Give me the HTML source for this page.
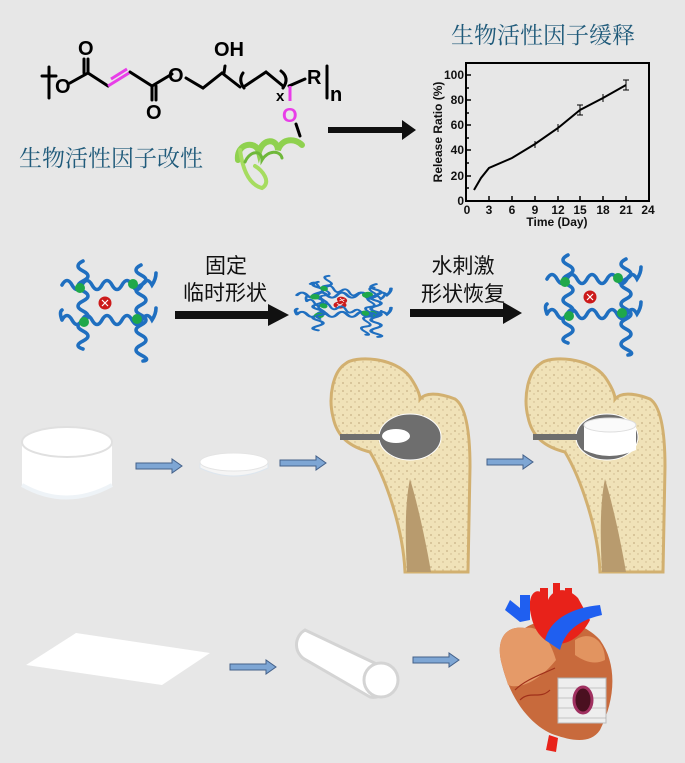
<!DOCTYPE html>
<html><head><meta charset="utf-8"><style>
html,body{margin:0;padding:0;background:#e7e7e7;}
svg{display:block;}
text{font-family:"Liberation Sans","Noto Sans CJK SC",sans-serif;}
.cjk{font-family:"Noto Serif CJK SC","Noto Sans CJK SC",serif;}
</style></head><body>
<svg width="685" height="763" viewBox="0 0 685 763" xmlns="http://www.w3.org/2000/svg">
<rect width="685" height="763" fill="#e7e7e7"/>
<defs>
<g id="net">
 <g fill="none" stroke="#1f6fc0" stroke-width="3.6" stroke-linecap="round">
  <path d="M-43,-18 q5,-9 10,0 t10,0 t10,0 t10,0 t10,0 t10,0 t10,0 t10,0 t10,0 q4,-6 4,-12"/>
  <path d="M-43,17 q-3,-8 0,-10 M-43,17 q5,-9 10,0 t10,0 t10,0 t10,0 t10,0 t10,0 t10,0 t10,0 t10,0 q4,-6 4,-12"/>
  <path d="M-22,-42 q-10,5 0,10 t0,10 t0,10 t0,10 t0,10 t0,10 t0,10 t0,10 t0,8"/>
  <path d="M36,-38 q-10,5 0,10 t0,10 t0,10 t0,10 t0,10 t0,10 t0,10 t0,10 t0,10 t2,6"/>
 </g>
 <g fill="#1fa84a"><circle cx="-25" cy="-15" r="5"/><circle cx="28" cy="-19" r="5"/><circle cx="-21" cy="19" r="5"/><circle cx="32" cy="16" r="5"/></g>
 <circle cx="0" cy="0" r="6.5" fill="#cc1a1a"/>
 <path d="M-3,-3 L3,3 M3,-3 L-3,3" stroke="#fff" stroke-width="1.2"/>
</g>
<pattern id="spong" width="8" height="8" patternUnits="userSpaceOnUse">
 <rect width="8" height="8" fill="#f0e2b8"/><circle cx="2" cy="2" r="0.9" fill="#c8b184"/><circle cx="6" cy="5" r="0.7" fill="#cdb78c"/>
</pattern>
<g id="bone">
 <path d="M20,7 C30,-2 70,0 85,20 C92,30 95,38 95,42 C100,36 112,35 130,42 C142,50 145,80 145,110 L143,215 L80,215 C78,170 60,120 45,95 C25,90 12,80 8,60 C3,40 8,15 20,7 Z" fill="url(#spong)" stroke="#d2b070" stroke-width="3"/>
 <path d="M85,122 C92,145 100,180 106,215 L82,215 C80,180 80,145 85,122 Z" fill="#b89b6e"/>
</g>
</defs>

<!-- Chemistry -->
<g stroke="#000" stroke-width="3" fill="none" stroke-linecap="round">
 <path d="M49,67 L49,98 M42,76 L56,76"/>
 <path d="M70,83 L88,73 L108,86"/>
 <path d="M88,73 L88,59 M84,73 L84,59" />
 <path d="M130,72 L152,86 L172,74"/>
 <path d="M152,86 L152,100 M156,86 L156,100"/>
 <path d="M186,78 L203,88 L222,73 L240,87 M225,66 L224,73"/>
 <path d="M244,88 Q238,80 243,73" />
 <path d="M245,86 L266,72 L283,86"/>
 <path d="M281,71 Q290,78 283,88"/>
 <path d="M289,86 L305,79"/>
 <path d="M296,124 L300,136"/>
 <path d="M327,66 L327,98"/>
</g>
<g stroke="#e83ee8" stroke-width="3" fill="none">
 <path d="M108,86 L129,73 M111,79 L127,69"/>
 <path d="M290,86 L290,101"/>
</g>
<g font-weight="bold" font-size="20" fill="#000">
 <text x="55" y="93">O</text>
 <text x="78" y="55">O</text>
 <text x="146" y="119">O</text>
 <text x="168" y="82">O</text>
 <text x="214" y="56">OH</text>
 <text x="307" y="84">R</text>
 <text x="330" y="101">n</text>
 <text x="276" y="101" font-size="15">x</text>
</g>
<text x="282" y="122" font-size="20" font-weight="bold" fill="#e83ee8">O</text>
<!-- protein ribbon -->
<g fill="none" stroke-linecap="round">
 <path d="M238,160 C236,143 256,140 259,152 C263,138 277,138 278,150 C282,138 295,138 302,145" stroke="#8fd14f" stroke-width="6"/>
 <path d="M240,150 C243,172 250,185 262,188 C272,182 262,170 255,166" stroke="#a6dc60" stroke-width="4"/>
 <path d="M245,162 C250,150 262,150 262,160 C268,150 280,150 282,158" stroke="#6fb83a" stroke-width="3"/>
</g>
<text x="19" y="166" class="cjk" font-size="23" fill="#1f5a7a">生物活性因子改性</text>

<!-- black arrow -->
<path d="M328,127 L402,127 L402,120 L416,130 L402,140 L402,133 L328,133 Z" fill="#111"/>

<!-- Title -->
<text x="451" y="43" class="cjk" font-size="23" fill="#1f5a7a">生物活性因子缓释</text>

<!-- Chart -->
<rect x="466" y="63" width="183" height="138" fill="none" stroke="#000" stroke-width="2"/>
<g stroke="#000" stroke-width="1.5">
 <path d="M466,75 h5 M466,100 h5 M466,125 h5 M466,150 h5 M466,176 h5 M466,88 h3 M466,113 h3 M466,138 h3 M466,163 h3 M466,188 h3"/>
 <path d="M489,201 v-5 M512,201 v-5 M535,201 v-5 M558,201 v-5 M580,201 v-5 M603,201 v-5 M626,201 v-5"/>
</g>
<polyline points="474,190 481,178 489,168 512,158 535,144 558,128 580,110 603,98 626,85" fill="none" stroke="#000" stroke-width="2"/>
<g stroke="#000" stroke-width="1"><path d="M626,80 v10 M623,80 h6 M623,90 h6 M580,105 v10 M577,105 h6 M577,115 h6 M603,94 v8 M558,124 v8 M535,141 v7"/></g>
<g font-size="12" font-weight="bold" fill="#111" text-anchor="end">
 <text x="464" y="79">100</text><text x="464" y="104">80</text><text x="464" y="129">60</text><text x="464" y="154">40</text><text x="464" y="180">20</text><text x="464" y="205">0</text>
</g>
<g font-size="12" font-weight="bold" fill="#111" text-anchor="middle">
 <text x="467" y="214">0</text><text x="489" y="214">3</text><text x="512" y="214">6</text><text x="535" y="214">9</text><text x="558" y="214">12</text><text x="580" y="214">15</text><text x="603" y="214">18</text><text x="626" y="214">21</text><text x="648" y="214">24</text>
 <text x="557" y="226">Time (Day)</text>
</g>
<text transform="translate(442,132) rotate(-90)" font-size="12" font-weight="bold" fill="#111" text-anchor="middle">Release Ratio (%)</text>

<!-- Networks -->
<use href="#net" transform="translate(105,303)"/>
<g transform="translate(340,305) scale(1.0,0.55)"><use href="#net"/></g>
<g transform="translate(342,300) rotate(12) scale(0.8,0.5)"><use href="#net"/></g>
<use href="#net" transform="translate(590,297)"/>
<path d="M175,311 L268,311 L268,304 L289,315 L268,326 L268,319 L175,319 Z" fill="#111"/>
<path d="M410,309 L503,309 L503,302 L522,313 L503,324 L503,317 L410,317 Z" fill="#111"/>
<g class="cjk" font-size="21" fill="#111" text-anchor="middle">
 <text x="226" y="273">固定</text><text x="225" y="300">临时形状</text>
 <text x="463" y="273">水刺激</text><text x="463" y="301">形状恢复</text>
</g>

<!-- Bones -->
<use href="#bone" transform="translate(325,357)"/>
<use href="#bone" transform="translate(520,357)"/>
<ellipse cx="410" cy="437" rx="31" ry="23" fill="#6e6e6e" stroke="#fff" stroke-width="1"/>
<rect x="340" y="434" width="46" height="6" fill="#6e6e6e"/>
<ellipse cx="396" cy="436" rx="14" ry="7" fill="#fff"/>
<ellipse cx="607" cy="437" rx="31" ry="23" fill="#6e6e6e" stroke="#fff" stroke-width="1"/>
<rect x="533" y="434" width="46" height="6" fill="#6e6e6e"/>
<path d="M584,425 L584,450 Q609,462 636,450 L636,425 Z" fill="#fff"/>
<ellipse cx="610" cy="425" rx="26" ry="7" fill="#fafafa" stroke="#ddd"/>

<!-- cylinder & disc -->
<path d="M22,445 L22,485 Q66,510 112,485 L112,445 Z" fill="#fff"/>
<path d="M22,485 Q66,510 112,485" fill="none" stroke="#eef3f7" stroke-width="4"/>
<ellipse cx="67" cy="442" rx="45" ry="15" fill="#fff" stroke="#e0e0e0" stroke-width="2"/>
<path d="M200,462 L200,468 Q234,484 268,468 L268,462 Z" fill="#f5f5f5" stroke="#dde6ee"/>
<ellipse cx="234" cy="462" rx="34" ry="9" fill="#fff" stroke="#e4e4e4"/>
<g fill="#7ea6d4" stroke="#44618a" stroke-width="1">
 <path d="M136,463 L172,463 L172,459 L182,466 L172,473 L172,469 L136,469 Z"/>
 <path d="M280,460 L316,460 L316,456 L326,463 L316,470 L316,466 L280,466 Z"/>
 <path d="M487,459 L523,459 L523,455 L533,462 L523,469 L523,465 L487,465 Z"/>
 <path d="M230,664 L266,664 L266,660 L276,667 L266,674 L266,670 L230,670 Z"/>
 <path d="M413,657 L449,657 L449,653 L459,660 L449,667 L449,663 L413,663 Z"/>
</g>

<!-- sheet & tube -->
<polygon points="26,665 76,633 210,653 162,685" fill="#fff"/>
<path d="M305,630 L385,668 A17,17 0 0 1 370,697 L306,660 A17,17 0 0 1 305,630 Z" fill="#fff" stroke="#d4d4d4" stroke-width="3"/>
<circle cx="381" cy="680" r="17" fill="#fff" stroke="#d4d4d4" stroke-width="3"/>

<!-- heart -->
<path d="M502,665 C495,640 505,625 525,628 C545,615 580,618 600,640 C618,665 615,700 600,730 C590,745 570,740 555,735 C535,728 512,705 502,665 Z" fill="#c86a3c"/>
<path d="M502,665 C495,640 505,625 525,628 C540,625 550,640 556,660 C540,680 520,690 508,685 Z" fill="#e59a68"/>
<path d="M575,640 C590,630 605,640 605,660 C595,665 585,662 575,655 Z" fill="#e29460"/>
<path d="M530,610 C528,590 540,585 548,600 C552,590 565,585 578,598 L590,620 C580,640 560,650 545,640 C535,632 532,622 530,610 Z" fill="#e8221a"/>
<path d="M540,602 L540,588 L548,588 L548,602 Z M553,598 L553,583 L560,583 L560,598 Z M565,600 L565,588 L572,588 L572,600 Z" fill="#e8221a"/>
<path d="M505,610 L510,600 L520,608 L520,595 L530,595 L530,620 L520,622 Z" fill="#1f5ff0"/>
<path d="M545,640 C550,620 570,608 600,605 L602,615 C580,620 565,630 560,650 Z" fill="#1f5ff0"/>
<path d="M549,735 L546,750 L556,752 L558,738 Z" fill="#e8221a"/>
<rect x="558" y="678" width="48" height="45" fill="#eeeeee" stroke="#bbb"/>
<path d="M558,678 h48 M558,688 h48 M558,698 h48 M558,708 h48 M558,718 h48" stroke="#999" stroke-width="0.6"/>
<ellipse cx="583" cy="700" rx="9" ry="13" fill="#4a1020" stroke="#a03060" stroke-width="3"/>
<path d="M515,690 C525,680 540,675 555,668 M520,700 C530,690 540,700 550,690" stroke="#a0301a" fill="none" stroke-width="1.2"/>
</svg>
</body></html>
